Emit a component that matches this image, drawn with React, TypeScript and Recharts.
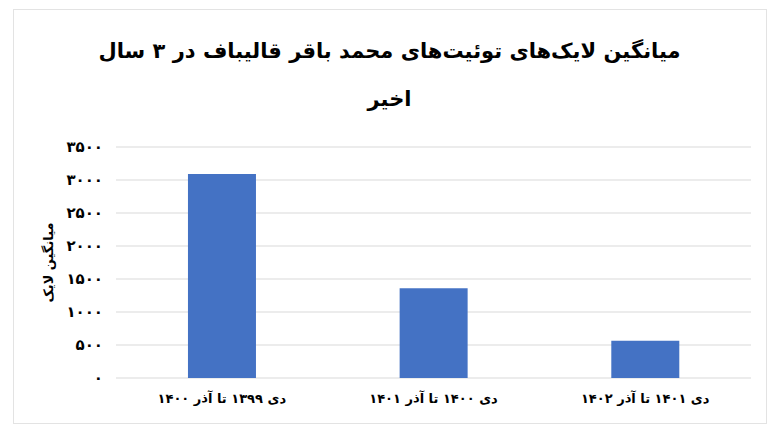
import React from "react";
import { BarChart, Bar, XAxis, YAxis, CartesianGrid, Label } from "recharts";

const titleLines = ["میانگین لایک‌های توئیت‌های محمد باقر قالیباف در ۳ سال", "اخیر"];
const yAxisTitle = "میانگین لایک";
const categories = ["دی ۱۳۹۹ تا آذر ۱۴۰۰", "دی ۱۴۰۰ تا آذر ۱۴۰۱", "دی ۱۴۰۱ تا آذر ۱۴۰۲"];
const likes = [3090, 1360, 565];
const yTicks = [0, 500, 1000, 1500, 2000, 2500, 3000, 3500];
const yTickLabels = ["۰", "۵۰۰", "۱۰۰۰", "۱۵۰۰", "۲۰۰۰", "۲۵۰۰", "۳۰۰۰", "۳۵۰۰"];

const data = categories.map((name, i) => ({ name, value: likes[i] }));

const font = "'DejaVu Sans', sans-serif";

export default function App() {
  return (
    <div
      style={{
        position: "absolute",
        left: 0,
        top: 0,
        width: 768,
        height: 436,
        background: "#fff",
        fontFamily: font,
      }}
    >
      <div
        style={{
          position: "absolute",
          left: 13,
          top: 9,
          width: 752,
          height: 413,
          border: "1px solid #e3e3e3",
        }}
      />
      <div
        style={{
          position: "absolute",
          left: 13,
          top: 27,
          width: 753,
          textAlign: "center",
          direction: "rtl",
          fontWeight: 700,
          fontSize: 21,
          lineHeight: "48px",
          color: "#000",
        }}
      >
        {titleLines.map((t, i) => (
          <div key={i}>{t}</div>
        ))}
      </div>
      <BarChart
        width={768}
        height={436}
        data={data}
        margin={{ top: 147, right: 17, bottom: 28, left: 0 }}
        barCategoryGap="34%"
        style={{ position: "absolute", left: 0, top: 0 }}
      >
        <CartesianGrid horizontal={true} vertical={false} stroke="#d9d9d9" strokeWidth={1} />
        <XAxis
          dataKey="name"
          height={30}
          axisLine={false}
          tickLine={false}
          tickSize={0}
          tickMargin={16}
          interval={0}
          tick={{ fontFamily: font, fontSize: 13, fontWeight: 700, fill: "#000" }}
        />
        <YAxis
          width={116}
          domain={[0, 3500]}
          ticks={yTicks}
          interval={0}
          axisLine={false}
          tickLine={false}
          tickSize={0}
          tickMargin={13}
          tickFormatter={(v: number) => yTickLabels[yTicks.indexOf(v)]}
          tick={{ fontFamily: font, fontSize: 15, fontWeight: 700, fill: "#000" }}
        >
          <Label
            value={yAxisTitle}
            angle={-90}
            position="insideLeft"
            offset={48}
            style={{ fontFamily: font, fontSize: 13, fontWeight: 700, fill: "#000", textAnchor: "middle" }}
          />
        </YAxis>
        <Bar dataKey="value" fill="#4472c4" isAnimationActive={false} />
      </BarChart>
    </div>
  );
}
